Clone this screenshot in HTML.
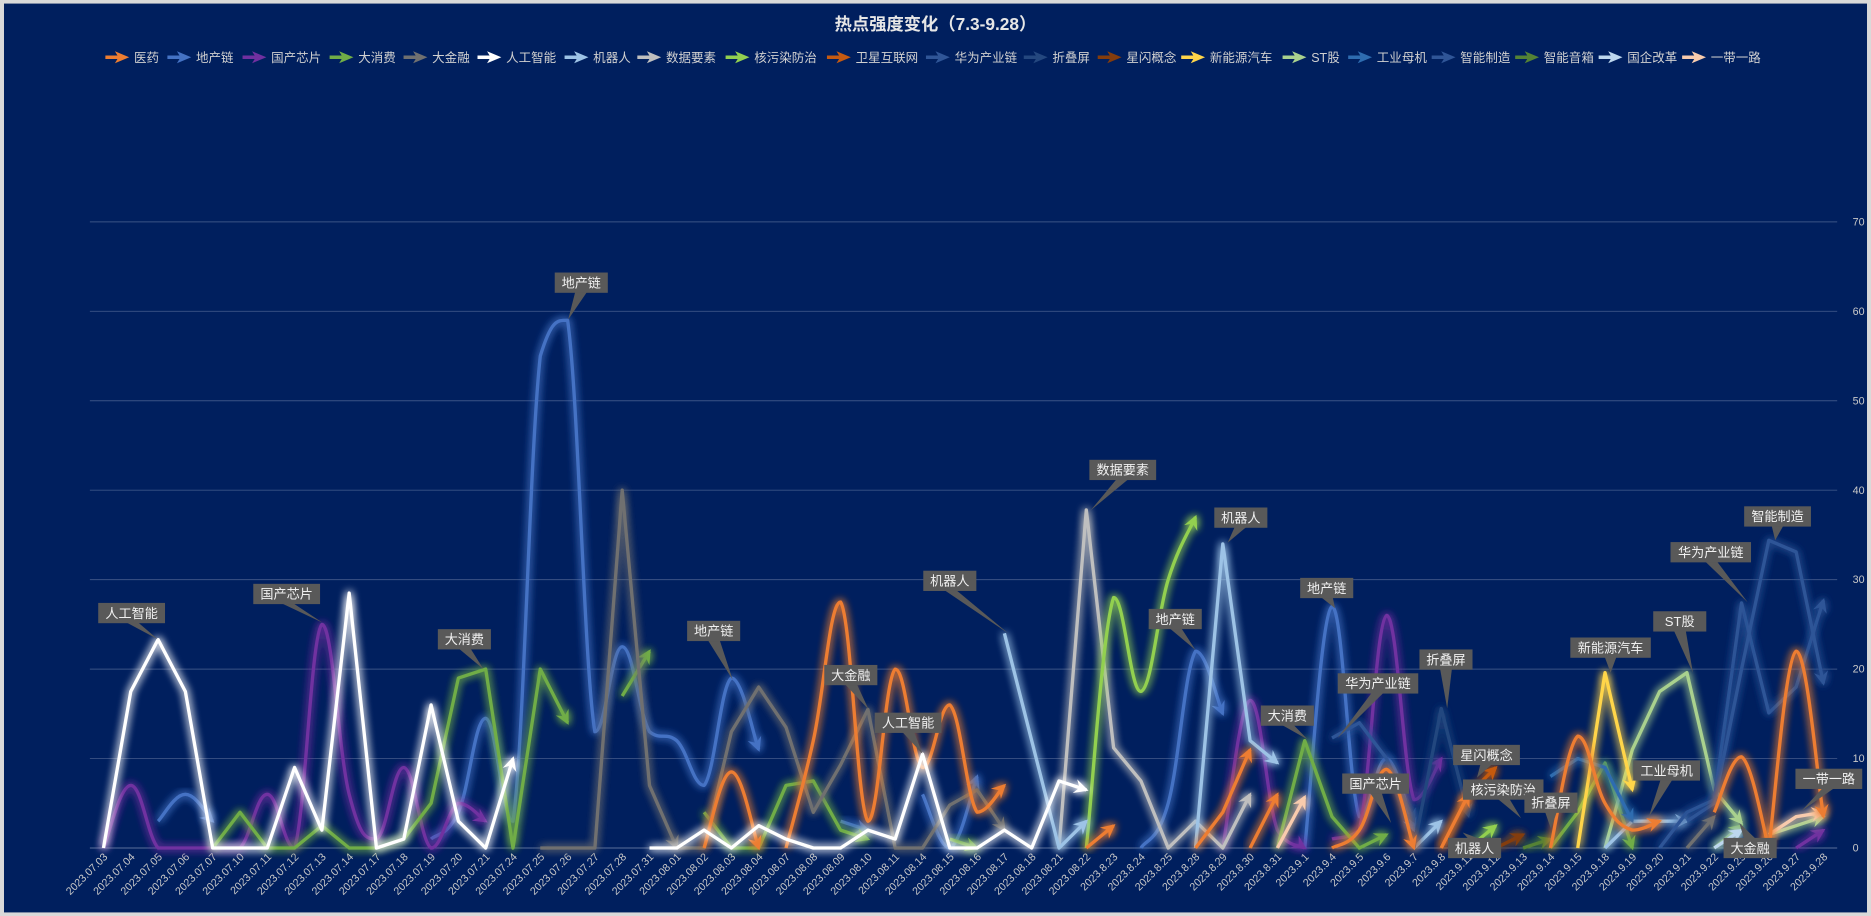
<!DOCTYPE html>
<html><head><meta charset="utf-8">
<style>
html,body{margin:0;padding:0;background:#d9d9d9;}
svg{display:block;}
text{font-family:"Liberation Sans","Noto Sans CJK SC",sans-serif;}
</style></head>
<body>
<svg id="c" width="1871" height="916" viewBox="0 0 1568 768" xmlns="http://www.w3.org/2000/svg">
<defs>
<filter id="glow" x="-20%" y="-20%" width="140%" height="140%">
<feGaussianBlur in="SourceGraphic" stdDeviation="3.5" result="b"/>
<feMerge><feMergeNode in="b"/><feMergeNode in="b"/><feMergeNode in="SourceGraphic"/></feMerge>
</filter>
</defs>
<rect x="3" y="3" width="1562" height="762" fill="#001F5E"/>
<text x="784" y="25" text-anchor="middle" font-size="14.5" font-weight="bold" fill="#e6e6e6">热点强度变化（7.3-9.28）</text>
<g id="grid"></g>
<g id="legend"></g>
<g id="series"></g>
<g id="labels"></g>
</svg>
<script>
var NS="http://www.w3.org/2000/svg";
function el(t,a,p){var e=document.createElementNS(NS,t);for(var k in a)e.setAttribute(k,a[k]);if(p)p.appendChild(e);return e;}
function X(i){return 86.4+22.89*i;}
function Y(v){return 711-7.5*v;}
var g=document.getElementById('grid');
for(var v=0;v<=70;v+=10){
 el('line',{x1:75,x2:1540,y1:Y(v),y2:Y(v),stroke:v==0?'#5a6f9a':'#3b5386','stroke-width':0.8},g);
 var t=el('text',{x:1553,y:Y(v)+3,'font-size':9,fill:'#c8c8c8'},g);t.textContent=v;
}
var cats=["2023.07.03","2023.07.04","2023.07.05","2023.07.06","2023.07.07","2023.07.10","2023.07.11","2023.07.12","2023.07.13","2023.07.14","2023.07.17","2023.07.18","2023.07.19","2023.07.20","2023.07.21","2023.07.24","2023.07.25","2023.07.26","2023.07.27","2023.07.28","2023.07.31","2023.08.01","2023.08.02","2023.08.03","2023.08.04","2023.08.07","2023.08.08","2023.08.09","2023.08.10","2023.08.11","2023.08.14","2023.08.15","2023.08.16","2023.08.17","2023.08.18","2023.08.21","2023.08.22","2023.8.23","2023.8.24","2023.8.25","2023.8.28","2023.8.29","2023.8.30","2023.8.31","2023.9.1","2023.9.4","2023.9.5","2023.9.6","2023.9.7","2023.9.8","2023.9.11","2023.9.12","2023.9.13","2023.9.14","2023.9.15","2023.9.18","2023.9.19","2023.9.20","2023.9.21","2023.9.22","2023.9.25","2023.9.26","2023.9.27","2023.9.28"];
cats.forEach(function(c,i){
 var x=X(i)+4,y=719;
 var t=el('text',{x:x,y:y,'font-size':9,fill:'#c8c8c8','text-anchor':'end',transform:'rotate(-45 '+x+' '+y+')'},g);t.textContent=c;
});
var C={yy:'#ED7D31',dc:'#4472C4',xp:'#7030A0',xf:'#70AD47',jr:'#707070',ai:'#FFFFFF',jq:'#9DC3E6',sj:'#BFBFBF',hw:'#92D050',wx:'#C55A11',hwc:'#2F5597',zd:'#24477F',xs:'#843C0C',xny:'#FFD54A',st:'#A9D18E',gy:'#2E6CB0',zn:'#2F5597',yx:'#548235',gq:'#BDD7EE',yd:'#F8CBAD'};
var legend=[['医药','yy',88],['地产链','dc',140],['国产芯片','xp',203],['大消费','xf',276],['大金融','jr',338],['人工智能','ai',400],['机器人','jq',473],['数据要素','sj',534],['核污染防治','hw',608],['卫星互联网','wx',693],['华为产业链','hwc',776],['折叠屏','zd',858],['星闪概念','xs',920],['新能源汽车','xny',990],['ST股','st',1075],['工业母机','gy',1130],['智能制造','zn',1200],['智能音箱','yx',1270],['国企改革','gq',1340],['一带一路','yd',1410]];
var lg=document.getElementById('legend');
legend.forEach(function(l){
 var x=l[2],y=48,c=C[l[1]];
 el('line',{x1:x,y1:y,x2:x+14,y2:y,stroke:c,'stroke-width':3},lg);
 el('path',{d:'M'+(x+8)+' '+(y-5)+' L'+(x+20)+' '+y+' L'+(x+8)+' '+(y+5)+' L'+(x+11)+' '+y+'Z',fill:c},lg);
 var t=el('text',{x:x+24,y:y+4,'font-size':10.5,fill:'#d0d0d0'},lg);t.textContent=l[0];
});
var S=[
['dc',2,[3,6,3],1],
['dc',12,[1,4,14.5,3,55,59,13,22.5,13,12,7,19,11],1],
['dc',27,[3,2],1],
['dc',30,[6,0,8],1],
['dc',38,[0,5,22,15],1],
['dc',44,[0,27,3.5,10,2],1],
['xp',0,[0,7,0,0,0,0,6,0,25,6,1,9,0,5,3],1],
['xp',41,[0,16.5,2,0],1],
['xp',45,[1,2,26,5.4,10],1],
['xp',62,[0,2],1],
['xf',4,[0,4,0,0,2.5,0,0,1,5,19,20,0,20,14],0],
['xf',19,[17,22],0],
['xf',22,[4,0,0,7,7.5,2,1],0],
['xf',31,[1,0],0],
['xf',43,[0,12,3.5,0,1.5],0],
['xf',53,[0,4,9.5,0],0],
['xf',59,[0,2.5],0],
['jr',16,[0,0,0,40,7,0],0],
['jr',21,[0,0,13,18,13.5,4,9.3,15.5,0,0,4.8,6.5,2],0],
['jr',58,[0,3.5],0],
['sj',35,[0,37.8,11.2,7.5,0,3,0,6],0],
['hw',36,[0,28,17.5,30,37],1],
['hw',50,[0,2.5],0],
['st',55,[0,11,17.5,19.6,6.5,2.8],0],
['st',61,[1.5,2.5,3.5],0],
['jq',33,[24,12,0,3],0],
['jq',40,[0,34,12,9.5],0],
['jq',48,[0,3],0],
['jq',55,[0,3,3,3],0],
['hwc',45,[12.3,14,10,3],0],
['hwc',57,[0,4,5.4,27.4,15.1,18,27.7],0],
['zn',58,[3,5,20,34.4,33.1,18.4],0],
['gy',53,[8,10,9,3],0],
['zd',48,[0,15.6,3.6],0],
['zd',51,[0,1.5],0],
['wx',49,[0,6,9],0],
['xs',51,[0,1.5],0],
['xny',54,[0,19.6,6.5],0],
['yd',43,[0,5.7],0],
['yd',61,[1.5,3.5,4],0],
['gq',59,[0,2],0],
['yx',52,[0,1],0],
['yy',22,[0,8.5,0],1],
['yy',25,[0,12,27.5,3,20,9,16,4,7],1],
['yy',36,[0,2.5],0],
['yy',40,[0,4,11],0],
['yy',42,[0,6],0],
['yy',45,[0,2,8.8,0],1],
['yy',49,[0,6],0],
['yy',53,[0,12.5,5,2,3],1],
['yy',59,[4,10.2,0],1],
['yy',61,[0,22,3.5],1],
['ai',0,[0,17.5,23.3,17.5,0,0,0,9,2,28.5,0,1,16,3,0,10],0],
['ai',20,[0,0,2,0,2.5,1,0,0,2,1,10.5,0,0,2,0,7.5,6.5],0]
];
function cl(v,a,b){var lo=Math.min(a,b),hi=Math.max(a,b);return Math.max(lo,Math.min(hi,v));}
var sg=document.getElementById('series');
S.forEach(function(s){
 var c=C[s[0]],p=s[2].map(function(v,k){return [X(s[1]+k),Y(v)];});
 var d='M'+p[0][0]+' '+p[0][1];
 if(s[3]){
  for(var i=0;i<p.length-1;i++){
   var p0=p[Math.max(i-1,0)],p1=p[i],p2=p[i+1],p3=p[Math.min(i+2,p.length-1)],k=0.2;
   var c1=[p1[0]+(p2[0]-p0[0])*k,cl(p1[1]+(p2[1]-p0[1])*k,p1[1],p2[1])],c2=[p2[0]-(p3[0]-p1[0])*k,cl(p2[1]-(p3[1]-p1[1])*k,p1[1],p2[1])];
   d+=' C'+c1+' '+c2+' '+p2;
  }
 } else { for(var i=1;i<p.length;i++) d+=' L'+p[i][0]+' '+p[i][1]; }
 var gg=el('g',{filter:'url(#glow)'},sg);
 el('path',{d:d,fill:'none',stroke:c,'stroke-width':2.8,'stroke-linejoin':'round'},gg);
 var a=p[p.length-1],b=p[p.length-2];
 var ang=Math.atan2(a[1]-b[1],a[0]-b[0])*180/Math.PI;
 el('path',{d:'M2 0 L-10 -6 L-6 0 L-10 6Z',fill:c,transform:'translate('+a[0]+' '+a[1]+') rotate('+ang+')'},gg);
});
var L=[['人工智能',110,514,132,536],['国产芯片',240,498,270,522],['大消费',389,536,405,561],['地产链',487,237,476,268],['地产链',598,529,614,570],['大金融',713,566,728,595],['人工智能',761,606,773,632],['机器人',796,487,845,531],['数据要素',941,394,914,428],['地产链',985,519,1002,545],['机器人',1040,434,1029,455],['大消费',1079,600,1096,620],['地产链',1112,493,1119,510],['华为产业链',1155,573,1121,619],['国产芯片',1153,657,1166,690],['折叠屏',1212,553,1213,594],['星闪概念',1246,633,1238,652],['核污染防治',1260,662,1275,686],['折叠屏',1300,673,1300,695],['机器人',1236,711,1226,698],['新能源汽车',1350,543,1350,564],['ST股',1408,521,1419,564],['华为产业链',1434,463,1465,505],['工业母机',1397,646,1382,685],['大金融',1467,711,1458,690],['智能制造',1490,433,1488,453],['一带一路',1533,653,1510,680]];
var lb=document.getElementById('labels');
L.forEach(function(l){
 var w=l[0].length*11.5+10,h=17,x=l[1]-w/2,y=l[2]-h/2;
 var bx=l[1],by=l[2]+(l[4]>l[2]?h/2-1:-h/2+1);
 el('path',{d:'M'+(bx-5)+' '+by+' L'+(bx+5)+' '+by+' L'+l[3]+' '+l[4]+'Z',fill:'#595959'},lb);
 el('rect',{x:x,y:y,width:w,height:h,fill:'#595959'},lb);
 var t=el('text',{x:l[1],y:l[2]+4,'font-size':11,fill:'#f0f0f0','text-anchor':'middle'},lb);t.textContent=l[0];
});
</script>
</body></html>
